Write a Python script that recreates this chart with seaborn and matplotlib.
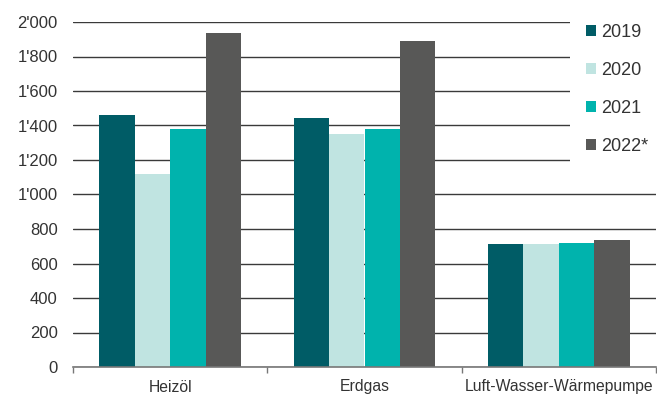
import matplotlib
matplotlib.use("Agg")
import matplotlib.pyplot as plt
from matplotlib.ticker import FuncFormatter, FixedLocator
import seaborn as sns
import pandas as pd

categories = ["Heizöl", "Erdgas", "Luft-Wasser-Wärmepumpe"]
years = ["2019", "2020", "2021", "2022*"]
v2019 = [1460, 1443, 713]
v2020 = [1120, 1351, 713]
v2021 = [1380, 1380, 719]
v2022 = [1936, 1890, 736]
colors = ["#005c66", "#c0e4e1", "#00b3ad", "#585857"]

rows = []
for yr, vals in zip(years, [v2019, v2020, v2021, v2022]):
    for c, v in zip(categories, vals):
        rows.append({"Kategorie": c, "Jahr": yr, "Wert": v})
df = pd.DataFrame(rows)

sns.set_style("white")
plt.rcParams["font.family"] = ["Liberation Sans", "DejaVu Sans"]
plt.rcParams["text.color"] = "#333333"

fig = plt.figure(figsize=(6.57, 3.98), dpi=100)
ax = fig.add_axes([73/657, 1-367/398, (656-73)/657, (367-22)/398])

sns.barplot(data=df, x="Kategorie", y="Wert", hue="Jahr", order=categories,
            hue_order=years, palette=colors, saturation=1, width=0.73,
            gap=0, ax=ax, errorbar=None, zorder=3, linewidth=0)

ax.set_ylim(0, 2000)
ax.set_xlim(-0.5, 2.5)
ax.set_yticks(range(0, 2001, 200))
ax.yaxis.set_major_formatter(FuncFormatter(lambda v, p: f"{int(v):,}".replace(",", "'")))
ax.grid(axis="y", color="#3a3a3a", linewidth=1.0, zorder=0)
ax.set_axisbelow(True)
ax.set_xlabel("")
ax.set_ylabel("")
for s in ["top", "right", "left"]:
    ax.spines[s].set_visible(False)
ax.spines["bottom"].set_color("#777777")
ax.spines["bottom"].set_linewidth(1.2)
ax.spines["bottom"].set_zorder(5)

ax.tick_params(axis="y", length=0, pad=11, labelsize=12, labelcolor="#333333")
ax.tick_params(axis="x", which="major", length=0, pad=9, labelsize=11.3, labelcolor="#333333")
ax.xaxis.set_minor_locator(FixedLocator([-0.5, 0.5, 1.5, 2.5]))
ax.tick_params(axis="x", which="minor", length=4, width=1, color="#777777", bottom=True)

handles, labels = ax.get_legend_handles_labels()
leg = ax.legend(handles, labels, loc="upper left",
                bbox_to_anchor=(570/657, 1-8/398), bbox_transform=fig.transFigure,
                borderaxespad=0, borderpad=0.9, frameon=True, facecolor="white",
                edgecolor="white", framealpha=1, fancybox=False, fontsize=13,
                handlelength=0.55, handleheight=0.55, handletextpad=0.3,
                labelspacing=1.15)
leg.set_zorder(10)
leg.get_frame().set_linewidth(0)

fig.savefig("out.png", dpi=100)
